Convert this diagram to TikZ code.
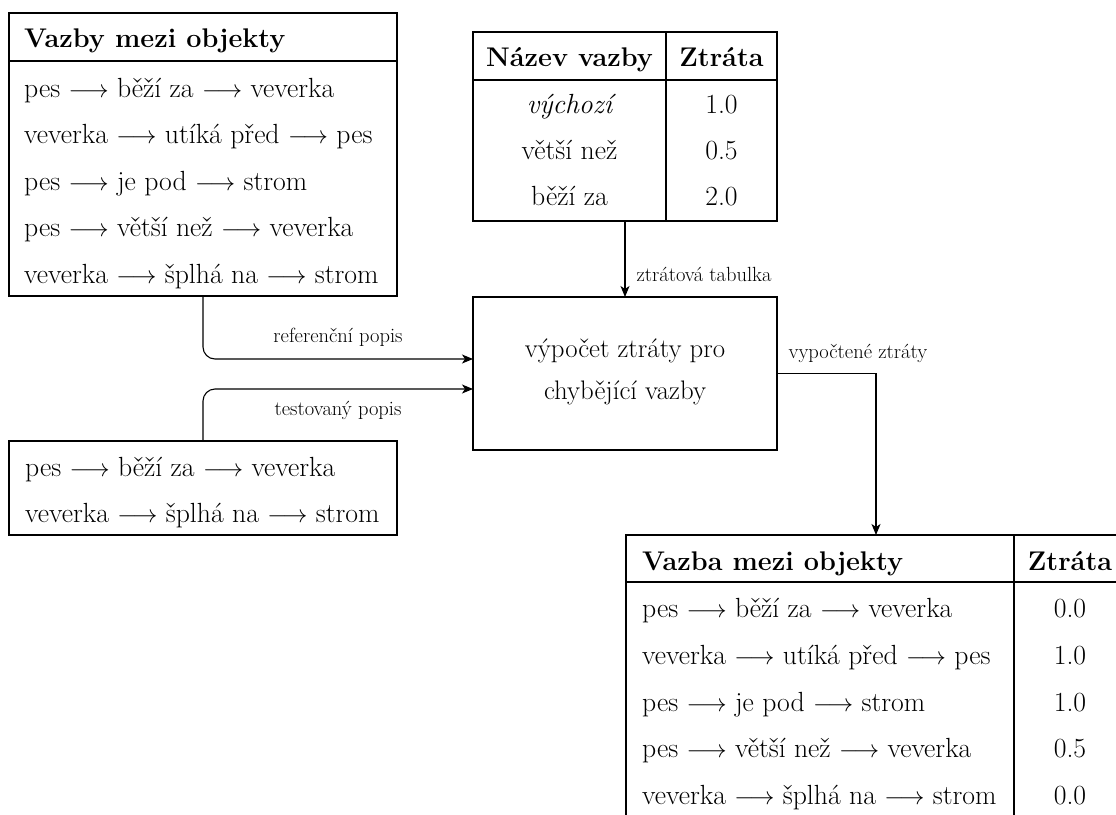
\documentclass[tikz,border=0pt]{standalone}
\usepackage{fontspec}
\usetikzlibrary{arrows.meta}

\tikzset{
  box/.style={draw, rectangle, line width=1.1pt, inner sep=0pt, outer sep=0pt, anchor=north west},
  rule/.style={line width=1.1pt},
  cell/.style={inner sep=0pt, font=\fontsize{27.7}{32}\selectfont},
  head/.style={inner sep=0pt, font=\fontsize{27}{32}\selectfont\bfseries},
  steptext/.style={inner sep=0pt, font=\fontsize{26.8}{32}\selectfont},
  lbl/.style={inner sep=0pt, font=\fontsize{20.5}{24}\selectfont},
  arr/.style={line width=1.1pt, -{Stealth[length=11pt,width=9pt,inset=3pt]}},
}
\newcommand{\ra}{$\longrightarrow$}

\begin{document}
\begin{tikzpicture}[x=1pt,y=-1pt]
\useasboundingbox (0,0) rectangle (1116,814);
\clip (0,0) rectangle (1116,814);

% reference relations
\node[box, minimum width=388pt, minimum height=283pt] (rel) at (9,13) {};
\draw[rule] (9,61) -- (397,61);
\node[head, anchor=base west] (relh) at (24,47) {Vazby mezi objekty};
\node[cell, anchor=base west] (rel1) at (24,97)  {pes \ra{} běží za \ra{} veverka};
\node[cell, anchor=base west] (rel2) at (24,143) {veverka \ra{} utíká před \ra{} pes};
\node[cell, anchor=base west] (rel3) at (24,190) {pes \ra{} je pod \ra{} strom};
\node[cell, anchor=base west] (rel4) at (24,236) {pes \ra{} větší než \ra{} veverka};
\node[cell, anchor=base west] (rel5) at (24,283) {veverka \ra{} šplhá na \ra{} strom};

% tested relations
\node[box, minimum width=388pt, minimum height=94pt] (test) at (9,441) {};
\node[cell, anchor=base west] (test1) at (25,476) {pes \ra{} běží za \ra{} veverka};
\node[cell, anchor=base west] (test2) at (25,522) {veverka \ra{} šplhá na \ra{} strom};

% loss table
\node[box, minimum width=304pt, minimum height=189pt] (loss) at (473,32) {};
\draw[rule] (473,80) -- (777,80);
\draw[rule] (666,32) -- (666,221);
\node[head, anchor=base] (lossh1) at (569.5,66) {Název vazby};
\node[head, anchor=base] (lossh2) at (721.5,66) {Ztráta};
\node[cell, anchor=base] (loss1a) at (569.5,113) {\itshape výchozí};
\node[cell, anchor=base] (loss1b) at (721.5,113) {1.0};
\node[cell, anchor=base] (loss2a) at (569.5,159) {větší než};
\node[cell, anchor=base] (loss2b) at (721.5,159) {0.5};
\node[cell, anchor=base] (loss3a) at (569.5,205) {běží za};
\node[cell, anchor=base] (loss3b) at (721.5,205) {2.0};

% computation step
\node[box, minimum width=304pt, minimum height=153pt] (calc) at (473,297) {};
\node[steptext, anchor=base] (calct1) at (625,357) {výpočet ztráty pro};
\node[steptext, anchor=base] (calct2) at (625,399) {chybějící vazby};

% result table
\node[box, minimum width=500pt, minimum height=300pt] (res) at (626,535) {};
\draw[rule] (626,582) -- (1126,582);
\draw[rule] (1014,535) -- (1014,835);
\node[head, anchor=base west] (resh1) at (642,570) {Vazba mezi objekty};
\node[head, anchor=base] (resh2) at (1070,570) {Ztráta};
\node[cell, anchor=base west] (res1a) at (642,617) {pes \ra{} běží za \ra{} veverka};
\node[cell, anchor=base] (res1b) at (1070,617) {0.0};
\node[cell, anchor=base west] (res2a) at (642,664) {veverka \ra{} utíká před \ra{} pes};
\node[cell, anchor=base] (res2b) at (1070,664) {1.0};
\node[cell, anchor=base west] (res3a) at (642,711) {pes \ra{} je pod \ra{} strom};
\node[cell, anchor=base] (res3b) at (1070,711) {1.0};
\node[cell, anchor=base west] (res4a) at (642,757) {pes \ra{} větší než \ra{} veverka};
\node[cell, anchor=base] (res4b) at (1070,757) {0.5};
\node[cell, anchor=base west] (res5a) at (642,804) {veverka \ra{} šplhá na \ra{} strom};
\node[cell, anchor=base] (res5b) at (1070,804) {0.0};

% connectors
\draw[arr] (loss.south) -- node[lbl, pos=0.7, anchor=west, xshift=11pt] (lossl) {ztrátová tabulka} (loss.south |- calc.north);
\draw[arr, rounded corners=12pt] (rel.south) |- node[lbl, pos=0.75, anchor=base, yshift=17pt] (refl) {referenční popis} ([yshift=14.5pt]calc.west);
\draw[arr, rounded corners=12pt] (test.north) |- node[lbl, pos=0.75, anchor=base, yshift=-26pt] (testl) {testovaný popis} ([yshift=-15.5pt]calc.west);
\draw[arr] (calc.east) -| node[lbl, pos=0, anchor=base west, xshift=11pt, yshift=15pt] (outl) {vypočtené ztráty} (res.north);
\end{tikzpicture}
\end{document}
